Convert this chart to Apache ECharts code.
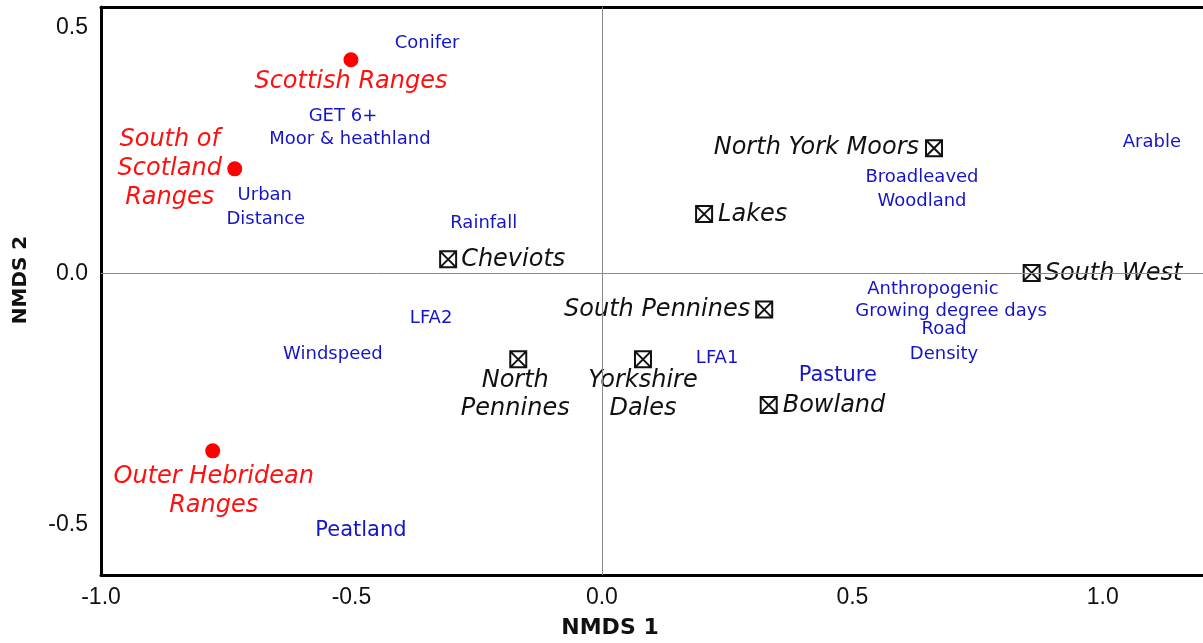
<!DOCTYPE html>
<html>
<head>
<meta charset="utf-8">
<script src="https://cdn.jsdelivr.net/npm/echarts@6/dist/echarts.min.js"></script>
<style>html,body{margin:0;padding:0;background:#fff}#c{width:1203px;height:643px}</style>
</head>
<body>
<div id="c"></div>
<script>
// ---- data ----
const xTicks = [-1.0, -0.5, 0.0, 0.5, 1.0];
const yTicks = [-0.5, 0.0, 0.5];

const rangeNames = ['Scottish Ranges', 'South of\nScotland\nRanges', 'Outer Hebridean\nRanges'];
const rangeX = [-0.501, -0.733, -0.777];
const rangeY = [0.425, 0.208, -0.353];

const siteNames = ['Cheviots', 'Lakes', 'North York Moors', 'South West', 'South Pennines', 'North\nPennines', 'Yorkshire\nDales', 'Bowland'];
const siteX = [-0.307, 0.204, 0.663, 0.858, 0.324, -0.167, 0.082, 0.333];
const siteY = [0.028, 0.118, 0.249, 0.001, -0.072, -0.171, -0.171, -0.262];

const varNames = ['Conifer', 'GET 6+', 'Moor & heathland', 'Urban', 'Distance', 'Rainfall', 'LFA2', 'Windspeed', 'LFA1', 'Arable', 'Broadleaved', 'Woodland', 'Anthropogenic', 'Growing degree days', 'Road', 'Density', 'Pasture', 'Peatland'];
const varX = [-0.349, -0.517, -0.503, -0.673, -0.671, -0.236, -0.341, -0.537, 0.230, 1.098, 0.639, 0.639, 0.661, 0.697, 0.683, 0.683, 0.471, -0.481];
const varY = [0.458, 0.313, 0.267, 0.156, 0.108, 0.100, -0.089, -0.160, -0.168, 0.261, 0.191, 0.144, -0.031, -0.075, -0.112, -0.160, -0.204, -0.511];

// ---- label placement (layout, not data) ----
const rangePlace = {
  'Scottish Ranges': {align: 'center', offset: [0, 22]},
  'South of\nScotland\nRanges': {align: 'center', offset: [-65, 0]},
  'Outer Hebridean\nRanges': {align: 'center', offset: [1, 40]}
};
const sitePlace = {
  'Cheviots': {align: 'left', offset: [13, 0]},
  'Lakes': {align: 'left', offset: [14, 1]},
  'North York Moors': {align: 'right', offset: [-15, 0]},
  'South West': {align: 'left', offset: [13, 1]},
  'South Pennines': {align: 'right', offset: [-14, 0]},
  'North\nPennines': {align: 'center', offset: [-3, 35]},
  'Yorkshire\nDales': {align: 'center', offset: [0, 35]},
  'Bowland': {align: 'left', offset: [14, 1]}
};
const bigVars = ['Pasture', 'Peatland'];

const isTick = (v, list) => list.some(t => Math.abs(t - v) < 1e-6);
const fmtX = v => (isTick(v, xTicks) ? v.toFixed(1) : '');
const fmtY = v => {
  if (!isTick(v, yTicks)) return '';
  if (Math.abs(v - 0.5) < 1e-6) return '{top|' + v.toFixed(1) + '}';
  return '{n|' + v.toFixed(1) + '}';
};

const crossBox = 'path://M0,0L10,0L10,10L0,10Z M0,0L10,10 M10,0L0,10';
const tickFont = '"Liberation Sans", Arial, sans-serif';

const chart = echarts.init(document.getElementById('c'), null, {renderer: 'canvas'});
chart.setOption({
  animation: false,
  backgroundColor: '#fff',
  grid: {left: 101, right: 0, top: 7, bottom: 68, containLabel: false},
  xAxis: [{
    type: 'value', min: -1, max: 1.2, interval: 0.1,
    axisLine: {show: true, onZero: false, lineStyle: {color: '#000', width: 3}},
    axisTick: {show: false}, splitLine: {show: false},
    axisLabel: {
      formatter: fmtX, margin: 11, fontSize: 23, fontFamily: tickFont,
      color: v => (Math.abs(v + 0.5) < 1e-6 ? '#777' : '#111'),
      showMaxLabel: false
    }
  }, {
    type: 'value', position: 'top', min: -1, max: 1.2,
    axisLine: {show: true, onZero: false, lineStyle: {color: '#000', width: 3}},
    axisTick: {show: false}, splitLine: {show: false}, axisLabel: {show: false}
  }],
  yAxis: {
    type: 'value', min: -0.6, max: 0.53, interval: 0.1,
    axisLine: {show: true, onZero: false, lineStyle: {color: '#000', width: 3}},
    axisTick: {show: false}, splitLine: {show: false},
    axisLabel: {
      formatter: fmtY, margin: 13, fontSize: 23, fontFamily: tickFont, color: '#111', showMaxLabel: false,
      rich: {
        top: {fontSize: 23, fontFamily: tickFont, color: '#111', padding: [12, 0, 0, 0]},
        n: {fontSize: 23, fontFamily: tickFont, color: '#111'}
      }
    }
  },
  graphic: [
    {type: 'text', x: 610, y: 628,
      style: {text: 'NMDS 1', font: 'bold 22px "DejaVu Sans", sans-serif', fill: '#111', align: 'center', verticalAlign: 'middle'}},
    {type: 'text', x: 21, y: 280, rotation: Math.PI / 2,
      style: {text: 'NMDS 2', font: 'bold 20px "DejaVu Sans", sans-serif', fill: '#111', align: 'center', verticalAlign: 'middle'}}
  ],
  series: [
    {
      type: 'scatter', name: 'zero', data: [], silent: true,
      markLine: {
        silent: true, symbol: 'none', label: {show: false},
        lineStyle: {color: '#8a8a8a', width: 1, type: 'solid', opacity: 1},
        data: [{xAxis: 0}, {yAxis: 0}]
      }
    },
    {
      type: 'scatter', name: 'vars', symbolSize: 0, silent: true,
      itemStyle: {opacity: 1},
      data: varNames.map((n, i) => ({
        value: [varX[i], varY[i]], name: n,
        label: {fontSize: bigVars.includes(n) ? 21 : 18}
      })),
      label: {
        show: true, position: 'inside', formatter: p => p.name, color: '#1515c8',
        fontFamily: '"DejaVu Sans", Verdana, sans-serif', fontSize: 18, align: 'center', verticalAlign: 'middle'
      }
    },
    {
      type: 'scatter', name: 'sites', symbol: crossBox, symbolSize: 16,
      itemStyle: {color: 'rgba(0,0,0,0)', borderColor: '#111', borderWidth: 2, opacity: 1},
      data: siteNames.map((n, i) => ({
        value: [siteX[i], siteY[i]], name: n,
        label: {align: sitePlace[n].align, offset: sitePlace[n].offset}
      })),
      label: {
        show: true, position: 'inside', formatter: p => p.name, color: '#111',
        fontFamily: '"DejaVu Sans", Verdana, sans-serif', fontStyle: 'italic', fontSize: 24,
        lineHeight: 28, verticalAlign: 'middle'
      }
    },
    {
      type: 'scatter', name: 'ranges', symbol: 'circle', symbolSize: 15,
      itemStyle: {color: '#ff0000', opacity: 1},
      data: rangeNames.map((n, i) => ({
        value: [rangeX[i], rangeY[i]], name: n,
        label: {align: rangePlace[n].align, offset: rangePlace[n].offset}
      })),
      label: {
        show: true, position: 'inside', formatter: p => p.name, color: '#ff1010',
        fontFamily: '"DejaVu Sans", Verdana, sans-serif', fontStyle: 'italic', fontSize: 24,
        lineHeight: 29, verticalAlign: 'middle'
      }
    }
  ]
});
</script>
</body>
</html>
